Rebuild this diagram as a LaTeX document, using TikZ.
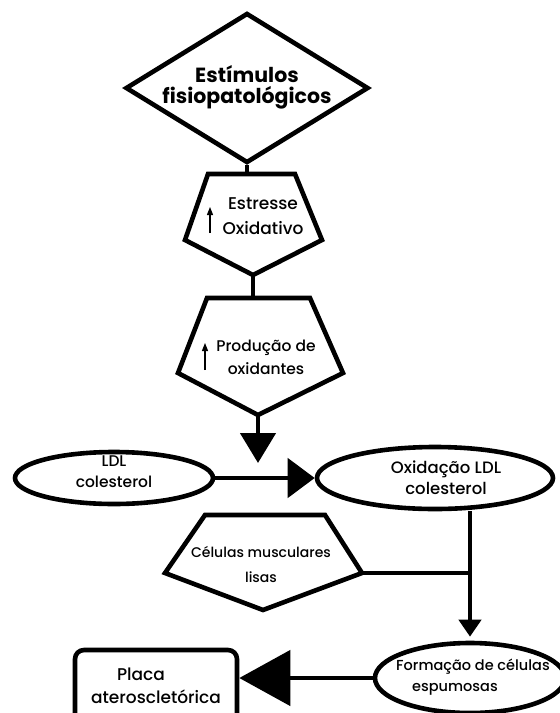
\documentclass[tikz,border=0pt]{standalone}
\usepackage{fontspec}
\setmainfont{Poppins}[UprightFont={* Medium}, BoldFont={* Bold}]
\usetikzlibrary{shapes.geometric,arrows.meta}
\newcommand\fsz[2]{\fontsize{#1}{#2}\selectfont}
\begin{document}
\begin{tikzpicture}[x=1pt,y=-1pt,
  thk/.style={line width=4.6pt},
  etxt/.style={align=center, inner sep=0pt},
  ptxt/.style={align=center, inner sep=0pt},
  btxt/.style={font=\fsz{20.5}{21}\bfseries, align=center, inner sep=0pt},
  ell/.style={ellipse, draw, thk, inner sep=0pt},
  pent/.style={thk, line join=miter},
  uparrow/.style={line width=1.2pt, -{Triangle[length=8pt,width=6pt]}}
]
\useasboundingbox (0,0) rectangle (560,713);
\clip (0,0) rectangle (560,713);

% diamond
\node[diamond, draw, thk, inner sep=0pt, minimum width=243pt, minimum height=150pt,
  label={[btxt, yshift=1pt]center:{Estímulos\\fisiopatológicos}}] (stim) at (247,88) {};

% pentagon 1
\draw[pent] (208,174) -- (295,174) -- (322,240) -- (253,275) -- (185,240) -- cycle;
\coordinate (p1n) at (251,174);
\coordinate (p1s) at (253,275);
\node[ptxt, font=\fsz{17}{25}] (estr) at (263,216) {Estresse\\Oxidativo};
\draw[uparrow] (210,233) -- (210,207);

% pentagon 2
\draw[pent] (207,298) -- (310,298) -- (343,373) -- (258,415) -- (178,373) -- cycle;
\coordinate (p2n) at (258,298);
\coordinate (p2s) at (258,415);
\node[ptxt, font=\fsz{15.5}{23}] (prod) at (266,357) {Produção de\\oxidantes};
\draw[uparrow] (205,370) -- (205,343);
\coordinate (dtip) at (258,463);

% ellipses
\node[ell, minimum width=198pt, minimum height=52pt,
  label={[etxt, font=\fsz{15.5}{21}, yshift=6pt]center:{LDL\\colesterol}}] (ldl) at (114,478) {};
\node[ell, minimum width=236pt, minimum height=62pt,
  label={[etxt, font=\fsz{16.5}{21}, xshift=11pt]center:{Oxidação LDL\\colesterol}}] (ox) at (435,478) {};

% pentagon 3
\draw[pent] (205,515) -- (325,515) -- (362,573) -- (263,610) -- (165,573) -- cycle;
\coordinate (cE) at (362,573);
\node[ptxt, font=\fsz{14}{25}] (cel) at (261,564) {Células musculares\\lisas};

% foam cells
\node[ell, minimum width=190pt, minimum height=70pt,
  label={[etxt, font=\fsz{14.5}{21}, xshift=3pt, yshift=1pt]center:{Formação de células\\espumosas\hspace*{36pt}}}] (form) at (470,678) {};

% plaque
\node[draw, thk, rounded corners=9pt, minimum width=162pt, minimum height=72pt,
  font=\fsz{17}{23}, align=center, inner sep=0pt] (placa) at (156,686)
  {Placa\hspace*{30pt}\\ateroscletórica};

% connectors
\draw[thk] (stim.south) -- (stim.south |- p1n);
\draw[thk] (p1s) -- (p1s |- p2n);
\draw[thk, -{Triangle[length=30pt,width=35pt]}] (p2s) -- (dtip);
\draw[thk, -{Triangle[length=27pt,width=39pt]}] (ldl.east) -- (ox.west);
\draw[thk, shorten >=4pt, -{Triangle[length=17pt,width=22pt]}] (form.north |- ox.south) -- (form.north);
\draw[thk] (cE) -- (cE -| form.north);
\draw[thk, -{Triangle[length=51pt,width=55pt]}] (form.west) -- (form.west -| placa.east);
\end{tikzpicture}
\end{document}
